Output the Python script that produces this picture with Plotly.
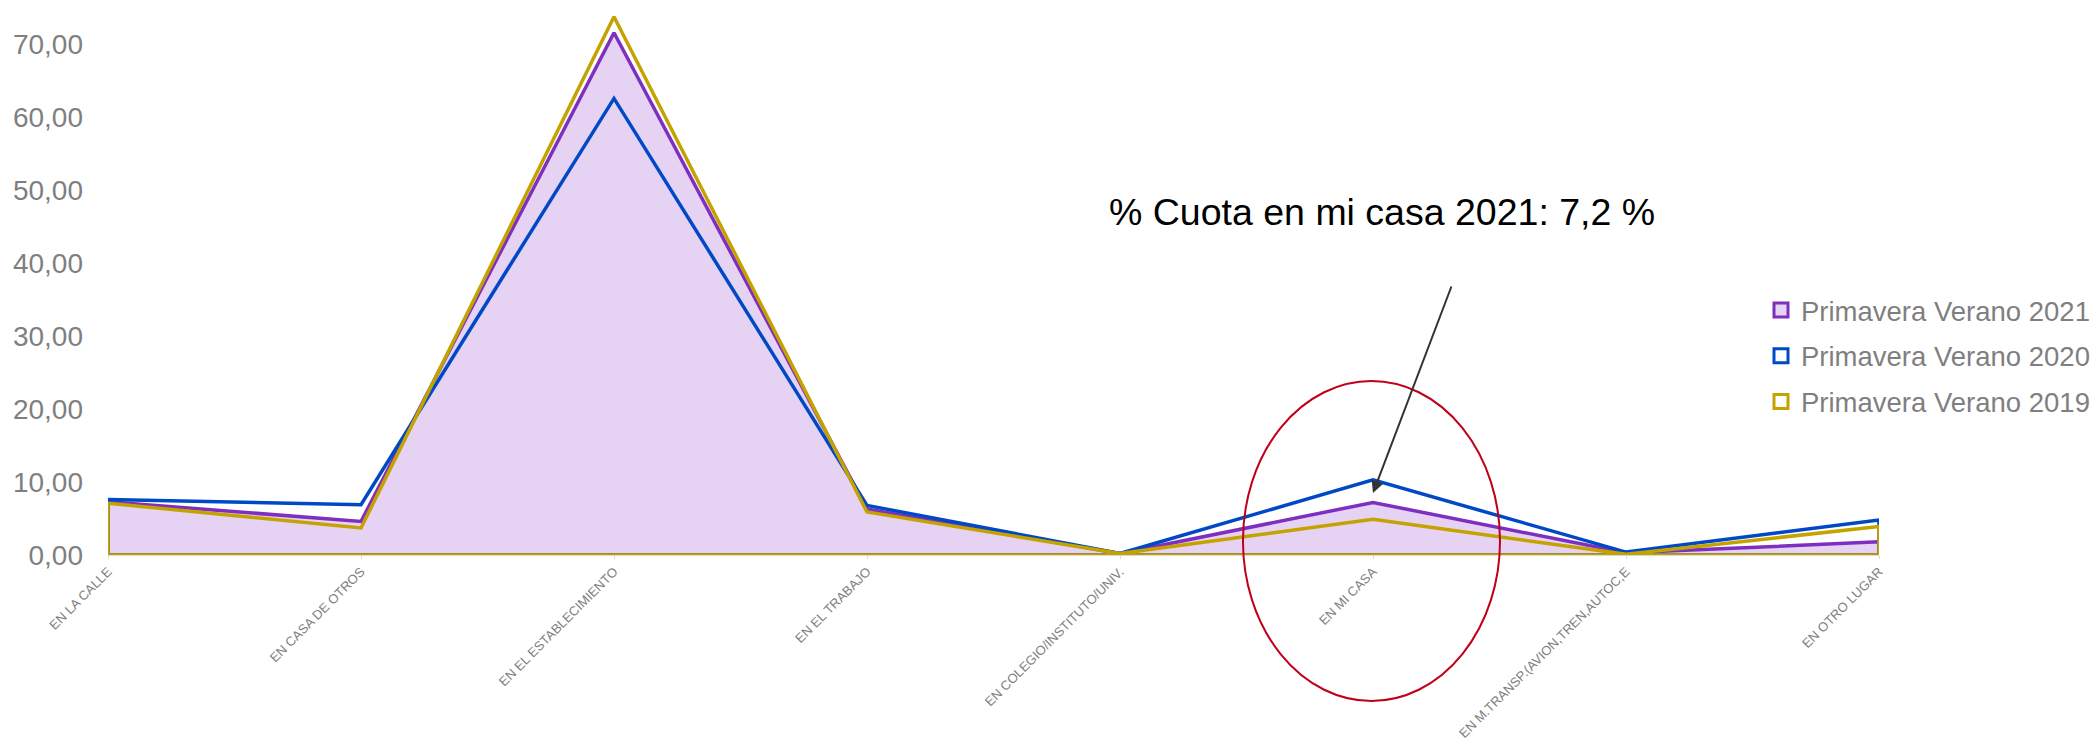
import plotly.graph_objects as go

categories = ["EN LA CALLE", "EN CASA DE OTROS", "EN EL ESTABLECIMIENTO", "EN EL TRABAJO",
              "EN COLEGIO/INSTITUTO/UNIV.", "EN MI CASA", "EN M.TRANSP.(AVION,TREN,AUTOC,E",
              "EN OTRO LUGAR"]
pv2021 = [7.3, 4.6, 71.6, 6.3, 0.2, 7.2, 0.3, 1.8]
pv2020 = [7.6, 6.9, 62.6, 6.8, 0.2, 10.3, 0.4, 4.8]
pv2019 = [7.1, 3.7, 73.8, 5.9, 0.2, 4.9, 0.1, 3.9]
series_names = ["Primavera Verano 2021", "Primavera Verano 2020", "Primavera Verano 2019"]
annotation_text = "% Cuota en mi casa 2021: 7,2 %"
y_ticks = [0, 10, 20, 30, 40, 50, 60, 70]

PURPLE = "#7E2FBF"
BLUE = "#0049C6"
GOLD = "#C4A300"
LAVENDER = "#E6D2F3"
GRAY = "#7F7F7F"
FONT = "Arial, Liberation Sans, sans-serif"

# page body has an 8px margin; figure sized to fit inside it
W, H = 2082, 739
L, R, T, B = 100, 211, 0, 192
PH = H - T - B
PW = W - L - R

idx = list(range(len(categories)))
last = idx[-1]


def closed(vals):
    xs = idx + [last, 0, 0]
    ys = list(vals) + [0, 0, vals[0]]
    return xs, ys


fig = go.Figure()

x21, y21 = closed(pv2021)
fig.add_trace(go.Scatter(x=x21, y=y21, mode="lines", fill="toself", fillcolor=LAVENDER,
                         line=dict(color=PURPLE, width=3.5), showlegend=False, hoverinfo="skip"))
x20, y20 = closed(pv2020)
fig.add_trace(go.Scatter(x=x20, y=y20, mode="lines", line=dict(color=BLUE, width=3.5),
                         showlegend=False, hoverinfo="skip"))
x19, y19 = closed(pv2019)
fig.add_trace(go.Scatter(x=x19, y=y19, mode="lines", line=dict(color=GOLD, width=3.5),
                         showlegend=False, hoverinfo="skip"))

# legend entries (square symbols)
for name, col, fillc in zip(series_names, [PURPLE, BLUE, GOLD], [LAVENDER, "white", "white"]):
    fig.add_trace(go.Scatter(x=[None], y=[None], mode="markers", name=name, legendgroup=name,
                             marker=dict(symbol="square", size=14, color=fillc,
                                         line=dict(color=col, width=3))))

fig.add_shape(type="circle", xref="x", yref="paper", x0=4.486, x1=5.502,
              y0=(H - B - 693) / PH, y1=(H - B - 373) / PH,
              line=dict(color="#C0001A", width=2), layer="above")

fig.add_annotation(x=5, y=pv2021[5] + 1.3, xref="x", yref="y", ax=79, ay=-208,
                   text="", showarrow=True,
                   arrowhead=2, arrowsize=1.2, arrowwidth=2, arrowcolor="#333333")
fig.add_annotation(x=(1374 - L) / PW, y=(H - B - 204) / PH, xref="paper", yref="paper",
                   xanchor="center", yanchor="middle",
                   text=annotation_text, showarrow=False,
                   font=dict(family=FONT, size=37.5, color="black"))

fig.update_layout(
    width=W, height=H,
    margin=dict(l=L, r=R, t=T, b=B, autoexpand=False),
    paper_bgcolor="white", plot_bgcolor="white",
    separators=",.",
    font=dict(family=FONT, color=GRAY),
    legend=dict(xref="container", yref="container", x=1753 / W, y=1 - 348 / H,
                xanchor="left", yanchor="middle", font=dict(family=FONT, size=27.5, color=GRAY),
                tracegroupgap=7, itemsizing="trace", bgcolor="rgba(0,0,0,0)"),
    showlegend=True,
)
fig.update_xaxes(range=[0, last], tickvals=idx, ticktext=categories, tickangle=-45,
                 tickfont=dict(family=FONT, size=13, color=GRAY), showgrid=False,
                 zeroline=False, showline=True, linecolor="#D9D9D9", linewidth=1,
                 ticks="outside", ticklen=3, tickcolor="#D9D9D9")
fig.update_yaxes(range=[0, 75], tickvals=y_ticks, tickformat=".2f",
                 tickfont=dict(family=FONT, size=28, color=GRAY), showgrid=False,
                 zeroline=False, showline=False, ticks="", ticklabelstandoff=24)

fig.write_html("out.html")
